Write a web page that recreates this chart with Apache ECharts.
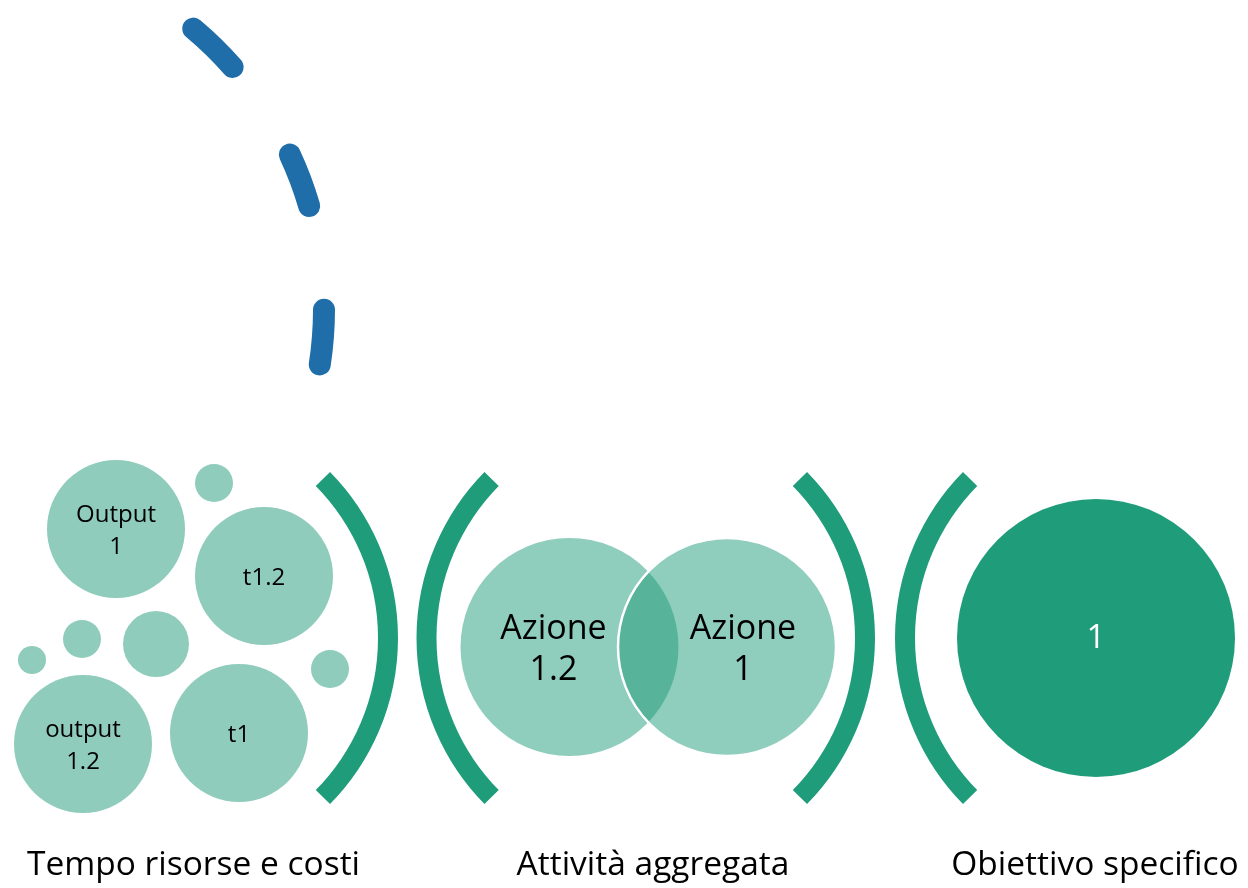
<!DOCTYPE html>
<html>
<head>
<meta charset="utf-8">
<title>Obiettivo specifico</title>
<script src="https://cdn.jsdelivr.net/npm/echarts@6/dist/echarts.min.js"></script>
<style>
  html, body { margin: 0; padding: 0; background: #fff; }
  #chart { width: 1248px; height: 888px; }
</style>
</head>
<body>
<div id="chart"></div>
<script>
// diagram coordinates, in axis units (1 unit = 1 px on the 1248x888 canvas)

// small bubbles: tempo risorse e costi
const bubbleX = [116, 214, 264, 156, 82, 32, 83, 239, 330]
const bubbleY = [529, 483, 576, 644, 639, 660, 744, 733, 669]
const bubbleR = [69, 19, 69, 33, 19, 14, 69, 69, 19]
const bubbleLabel = ['Output\n1', '', 't1.2', '', '', '', 'output\n1.2', 't1', '']

// venn: attività aggregata
const vennX = [569.5, 727]
const vennY = [647, 647]
const vennR = [109, 109]
const vennLabel = ['Azione\n1.2', 'Azione\n1']
const vennLabelShift = [-16, 16]

// obiettivo specifico
const goalX = [1096]
const goalY = [638]
const goalR = [139]
const goalLabel = ['1']

// brackets: centre x, centre y, radius, start / end angle (deg)
const bracketCx = [161, 653.5, 638, 1132]
const bracketCy = [638, 638, 638, 638]
const bracketR = [227, 227, 227, 227]
const bracketFrom = [-44.5, 135.5, -44.5, 135.5]
const bracketTo = [44.5, 224.5, 44.5, 224.5]

// dashed blue arc
const arcCx = [-42]
const arcCy = [309]
const arcR = [366]
const arcFrom = [-50]
const arcTo = [9]

// stage captions
const stageLabel = ['Tempo risorse e costi', 'Attività aggregata', 'Obiettivo specifico']
const stageX = [193.5, 653, 1095]
const stageY = [865, 865, 865]

const LIGHT = '#8FCCBB'
const DARK = '#1F9C7A'
const BLUE = '#1F6EA9'
const FONT = '"Open Sans", "Noto Sans", sans-serif'

const zip = (...cols) => cols[0].map((_, i) => cols.map(c => c[i]))
const rad = d => d * Math.PI / 180

function arcItem(color, width, dash, cap) {
  return function (params, api) {
    const c = api.coord([api.value(0), api.value(1)])
    const r = api.size([api.value(2), 0])[0]
    return {
      type: 'arc',
      shape: {
        cx: c[0], cy: c[1], r: r,
        startAngle: rad(api.value(3)),
        endAngle: rad(api.value(4)),
        clockwise: true
      },
      style: {
        fill: null,
        stroke: color,
        lineWidth: width,
        lineDash: dash,
        lineCap: cap
      }
    }
  }
}

function circleItem(labels, fill, opts) {
  opts = opts || {}
  return function (params, api) {
    const i = params.dataIndex
    const c = api.coord([api.value(0), api.value(1)])
    const r = api.size([api.value(2), 0])[0]
    const shift = opts.shift ? opts.shift[i] : 0
    const children = [{
      type: 'circle',
      shape: { cx: c[0], cy: c[1], r: r },
      style: {
        fill: fill,
        stroke: opts.stroke && i > 0 ? opts.stroke : null,
        lineWidth: opts.strokeWidth || 0
      }
    }]
    if (labels[i]) {
      children.push({
        type: 'text',
        x: c[0] + shift,
        y: c[1] + (opts.dy || 0),
        style: {
          text: labels[i],
          fill: opts.color || '#000',
          fontFamily: FONT,
          fontSize: opts.fontSize,
          lineHeight: opts.lineHeight,
          align: 'center',
          verticalAlign: 'middle'
        }
      })
    }
    return { type: 'group', children: children }
  }
}

const chart = echarts.init(document.getElementById('chart'))

chart.setOption({
  animation: false,
  backgroundColor: '#fff',
  grid: { left: 0, right: 0, top: 0, bottom: 0 },
  xAxis: { type: 'value', min: 0, max: 1248, show: false },
  yAxis: { type: 'value', min: 0, max: 888, inverse: true, show: false },
  series: [
    {
      type: 'custom',
      name: 'arco',
      data: zip(arcCx, arcCy, arcR, arcFrom, arcTo),
      renderItem: arcItem(BLUE, 22, [55, 105], 'round')
    },
    {
      type: 'custom',
      name: 'parentesi',
      data: zip(bracketCx, bracketCy, bracketR, bracketFrom, bracketTo),
      renderItem: arcItem(DARK, 20, null, 'butt')
    },
    {
      type: 'custom',
      name: 'Tempo risorse e costi',
      data: zip(bubbleX, bubbleY, bubbleR),
      renderItem: circleItem(bubbleLabel, LIGHT, { fontSize: 24, lineHeight: 32, dy: 2 })
    },
    {
      type: 'custom',
      name: 'Attività aggregata',
      data: zip(vennX, vennY, vennR),
      renderItem: circleItem(vennLabel, 'rgba(31,156,122,0.5)', {
        fontSize: 34, lineHeight: 41, dy: 3, shift: vennLabelShift,
        stroke: '#fff', strokeWidth: 2.5
      })
    },
    {
      type: 'custom',
      name: 'Obiettivo specifico',
      data: zip(goalX, goalY, goalR),
      renderItem: circleItem(goalLabel, DARK, { fontSize: 33, lineHeight: 41, dy: 1, color: '#fff' })
    },
    {
      type: 'custom',
      name: 'didascalie',
      data: zip(stageX, stageY),
      renderItem: function (params, api) {
        const c = api.coord([api.value(0), api.value(1)])
        return {
          type: 'text',
          x: c[0],
          y: c[1],
          style: {
            text: stageLabel[params.dataIndex],
            fill: '#000',
            fontFamily: FONT,
            fontSize: 33.5,
            align: 'center',
            verticalAlign: 'middle'
          }
        }
      }
    }
  ]
})

window.addEventListener('resize', () => chart.resize())
</script>
</body>
</html>
